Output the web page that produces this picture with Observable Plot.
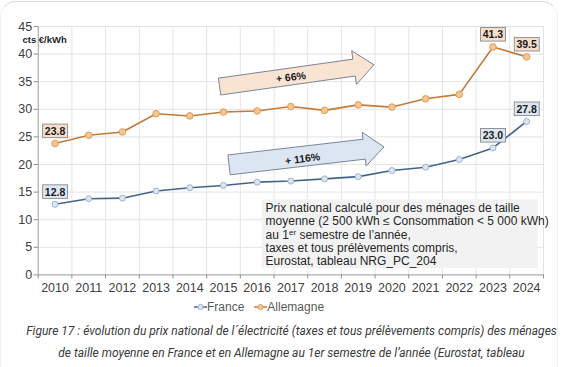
<!DOCTYPE html>
<html><head><meta charset="utf-8">
<script src="https://cdn.jsdelivr.net/npm/d3@7"></script>
<script src="https://cdn.jsdelivr.net/npm/@observablehq/plot@0.6"></script>
<style>
body{margin:0;background:#fff;font-family:"Liberation Sans",Arial,sans-serif;width:583px;height:367px;overflow:hidden;position:relative;}
#card{position:absolute;left:0px;top:1px;width:556px;height:420px;border-top:1px solid #d3dae0;border-left:1px solid #eef1f3;border-right:1px solid #eef1f3;border-radius:16px;}
#chart{position:absolute;left:0;top:0;}
#legend{position:absolute;top:300px;left:194px;font-size:12px;color:#595959;white-space:nowrap;display:flex;align-items:center;}
#legend span{display:inline-flex;align-items:center;margin-right:10px;}
#caption{position:absolute;top:321px;left:0;width:583px;text-align:center;font-family:Roboto,sans-serif;font-style:italic;font-size:12px;line-height:21.5px;color:#3a3a3a;white-space:nowrap;}
</style></head>
<body>
<div id="card"></div>
<div id="chart"></div>
<div id="legend"></div>
<div id="caption">Figure 17 : évolution du prix national de l´électricité (taxes et tous prélèvements compris) des ménages<br>de taille moyenne en France et en Allemagne au 1er semestre de l’année (Eurostat, tableau</div>
<script>
const years = [2010,2011,2012,2013,2014,2015,2016,2017,2018,2019,2020,2021,2022,2023,2024];
const france = [12.8,13.8,13.9,15.2,15.8,16.2,16.8,17.0,17.4,17.8,18.9,19.5,20.9,23.0,27.8];
const allemagne = [23.8,25.3,25.9,29.2,28.8,29.5,29.7,30.5,29.8,30.8,30.4,31.9,32.7,41.3,39.5];
const labeledYears = [2010,2023,2024];
const yTicks = [0,5,10,15,20,25,30,35,40,45];
const seriesNames = ["France","Allemagne"];
const unitLabel = "cts €/kWh";
const noteLines = [
  "Prix national calculé pour des ménages de taille",
  "moyenne (2 500 kWh ≤ Consommation < 5 000 kWh)",
  "au 1er semestre de l’année,",
  "taxes et tous prélèvements compris,",
  "Eurostat, tableau NRG_PC_204"
];
const arrowsData = [
  {x0:2014.90, y0:34.03, x1:2019.48, y1:37.97, label:"+ 66%", lx:2017.0, ly:35.8, fill:"#f9e3d3", bw:8.5},
  {x0:2015.18, y0:19.84, x1:2019.78, y1:23.10, label:"+ 116%", lx:2017.35, ly:21.0, fill:"#dce6f2", bw:10}
];

const colFR = "#44648a", colDE = "#c47a3a";
const frData = years.map((y,i)=>({year:y, v:france[i]}));
const deData = years.map((y,i)=>({year:y, v:allemagne[i]}));
const bounds = d3.range(2009.5, 2025, 1);

function arrowMark(a){
  return (index, scales) => {
    const sx = scales.x, sy = scales.y;
    const p0=[sx(a.x0), sy(a.y0)], p1=[sx(a.x1), sy(a.y1)];
    const dx=p1[0]-p0[0], dy=p1[1]-p0[1], L=Math.hypot(dx,dy);
    const u=[dx/L, dy/L], n=[-u[1], u[0]];
    const bw=a.bw, hw=17, hl=20;
    const neck=[p1[0]-hl*u[0], p1[1]-hl*u[1]];
    const P=(b,k)=>[b[0]+k*n[0], b[1]+k*n[1]];
    const pts=[P(p0,-bw),P(neck,-bw),P(neck,-hw),p1,P(neck,hw),P(neck,bw),P(p0,bw)];
    const path=document.createElementNS("http://www.w3.org/2000/svg","path");
    path.setAttribute("d","M"+pts.map(p=>p.join(",")).join("L")+"Z");
    path.setAttribute("fill",a.fill);
    path.setAttribute("stroke","#7a8597");
    path.setAttribute("stroke-width","1");
    return path;
  };
}

const plot = Plot.plot({
  width:583, height:300,
  marginLeft:37.7, marginRight:40, marginTop:26, marginBottom:25.6,
  x:{type:"linear", domain:[2009.5,2024.5]},
  y:{domain:[0,45]},
  style:{fontFamily:"'Liberation Sans', Arial, sans-serif", fontSize:"12.5px", color:"#404040", overflow:"visible"},
  marks:[
    Plot.ruleX(bounds.slice(1), {stroke:"#e4e4e4", strokeWidth:1}),
    Plot.ruleY(yTicks.slice(1), {stroke:"#e4e4e4", strokeWidth:1}),
    Plot.rect([0], {x1:()=>2016.15, x2:()=>2024.34, y1:()=>1.16, y2:()=>13.6, fill:"#f2f2f2"}),
    Plot.text([noteLines.join("\n")], {x:()=>2016.25, y:()=>13.1, text:d=>d, textAnchor:"start", lineAnchor:"top", lineHeight:1.11, fontSize:12, fill:"#262626", className:"note"}),
    Plot.axisY({ticks:yTicks, tickSize:4, tickPadding:2, stroke:"#8c8c8c", fontSize:12.5}),
    Plot.axisX({ticks:bounds, tickSize:4, tickFormat:()=>"", stroke:"#8c8c8c"}),
    Plot.axisX({ticks:years, tickSize:0, tickPadding:8, tickFormat:d=>String(d), fontSize:12.5}),
    Plot.ruleY([0], {stroke:"#9a9a9a"}),
    Plot.ruleX([2009.5], {stroke:"#9a9a9a"}),
    Plot.text([unitLabel], {x:()=>2009.69, y:()=>42.5, text:d=>d, fontWeight:"bold", fontSize:9.5, fill:"#262626"}),
    ...arrowsData.map(a=>arrowMark(a)),
    ...arrowsData.map(a=>Plot.text([a], {x:"lx", y:"ly", text:"label", rotate:-7.5, fontWeight:"bold", fontSize:10.5, fill:"#1a1a1a"})),
    Plot.line(deData, {x:"year", y:"v", stroke:colDE, strokeWidth:1.6}),
    Plot.dot(deData, {x:"year", y:"v", r:3.3, fill:"#f7c68e", stroke:"#dc9e5c", strokeWidth:1}),
    Plot.line(frData, {x:"year", y:"v", stroke:colFR, strokeWidth:1.6}),
    Plot.dot(frData, {x:"year", y:"v", r:3, fill:"#dce6f2", stroke:"#9bb4d3", strokeWidth:1}),
    Plot.text(deData.filter(d=>labeledYears.includes(d.year)), {x:"year", y:"v", text:d=>d.v.toFixed(1), dy:-12, fontWeight:"bold", fontSize:10.5, fill:"#1a1a1a", className:"lab-de"}),
    Plot.text(frData.filter(d=>labeledYears.includes(d.year)), {x:"year", y:"v", text:d=>d.v.toFixed(1), dy:-12, fontWeight:"bold", fontSize:10.5, fill:"#1a1a1a", className:"lab-fr"})
  ]
});
document.getElementById("chart").appendChild(plot);

// label boxes
[["lab-de","#f5dfcc"],["lab-fr","#dce6f2"]].forEach(([cls,fill])=>{
  plot.querySelectorAll("."+cls+" text").forEach(t=>{
    const b=t.getBBox();
    const r=document.createElementNS("http://www.w3.org/2000/svg","rect");
    r.setAttribute("x",b.x-2.2); r.setAttribute("y",b.y-0.8);
    r.setAttribute("width",b.width+4.4); r.setAttribute("height",b.height+1.6);
    r.setAttribute("fill",fill); r.setAttribute("stroke","#8a8a8a"); r.setAttribute("stroke-width","0.9");
    const tr=t.getAttribute("transform"); if(tr) r.setAttribute("transform",tr);
    t.parentNode.insertBefore(r,t);
  });
});
// superscript in note
plot.querySelectorAll(".note tspan").forEach(ts=>{
  if(ts.textContent.startsWith("au 1er")){
    const rest=ts.textContent.slice(6);
    ts.textContent="au 1";
    const sup=document.createElementNS("http://www.w3.org/2000/svg","tspan");
    sup.textContent="er"; sup.setAttribute("font-size","8"); sup.setAttribute("dy","-4");
    const after=document.createElementNS("http://www.w3.org/2000/svg","tspan");
    after.textContent=rest; after.setAttribute("dy","4");
    ts.appendChild(sup); ts.appendChild(after);
  }
});

// legend
const leg=document.getElementById("legend");
[[seriesNames[0],colFR,"#dce6f2","#9bb4d3"],[seriesNames[1],colDE,"#f7c68e","#dc9e5c"]].forEach(([name,c,f,s])=>{
  const sp=document.createElement("span");
  sp.innerHTML=`<svg width="13" height="10"><line x1="0" y1="5" x2="13" y2="5" stroke="${c}" stroke-width="1.5"/><circle cx="6.5" cy="5" r="2.6" fill="${f}" stroke="${s}"/></svg><span style="margin:0">${name}</span>`;
  leg.appendChild(sp);
});
</script>
</body></html>
